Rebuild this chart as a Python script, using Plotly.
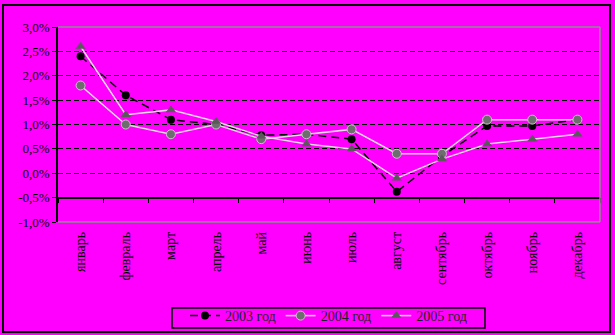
import plotly.graph_objects as go

months = ["январь", "февраль", "март", "апрель", "май", "июнь",
          "июль", "август", "сентябрь", "октябрь", "ноябрь", "декабрь"]
y2003 = [2.4, 1.6, 1.1, 1.0, 0.78, 0.8, 0.7, -0.38, 0.35, 0.97, 0.97, 1.1]
y2004 = [1.8, 1.0, 0.8, 1.0, 0.7, 0.8, 0.9, 0.4, 0.4, 1.1, 1.1, 1.1]
y2005 = [2.6, 1.2, 1.3, 1.06, 0.76, 0.6, 0.5, -0.1, 0.29, 0.6, 0.7, 0.8]
series_names = ["2003 год", "2004 год", "2005 год"]
y_tick_vals = [-1.0, -0.5, 0.0, 0.5, 1.0, 1.5, 2.0, 2.5, 3.0]
y_tick_text = ["-1,0%", "-0,5%", "0,0%", "0,5%", "1,0%", "1,5%", "2,0%", "2,5%", "3,0%"]
y_range = [-1.0, 3.0]
axis_cross = -0.5

BG = "#FF00FF"
FONT = "Liberation Serif"
W, H = 615, 335
ML, MR, MT, MB = 58, 15, 27, 113
PW, PH = W - ML - MR, H - MT - MB
cross_pos = (axis_cross - y_range[0]) / (y_range[1] - y_range[0])

fig = go.Figure()
fig.add_trace(go.Scatter(
    x=months, y=y2003, name=series_names[0], mode="lines+markers",
    line=dict(color="black", width=1.5, dash="8px,5px"),
    marker=dict(symbol="circle", size=8, color="black", line=dict(width=0)),
))
fig.add_trace(go.Scatter(
    x=months, y=y2004, name=series_names[1], mode="lines+markers",
    line=dict(color="#dcdcdc", width=1.5),
    marker=dict(symbol="circle", size=9, color="#6e6e6e", line=dict(width=1, color="#c8c8c8")),
))
fig.add_trace(go.Scatter(
    x=months, y=y2005, name=series_names[2], mode="lines+markers",
    line=dict(color="#dcdcdc", width=1.5),
    marker=dict(symbol="triangle-up", size=9, color="#5a5a5a", line=dict(width=0)),
))

fig.update_layout(
    width=W, height=H,
    margin=dict(l=ML, r=MR, t=MT, b=MB, autoexpand=False),
    paper_bgcolor=BG, plot_bgcolor=BG,
    font=dict(family=FONT, size=13, color="black"),
    showlegend=True,
    legend=dict(
        orientation="h", xref="container", yref="container",
        x=328.5 / W, xanchor="center", y=1 - 300 / H, yanchor="top",
        borderwidth=0, bgcolor="rgba(0,0,0,0)",
        font=dict(family=FONT, size=14, color="#222222"),
        tracegroupgap=0,
    ),
    xaxis=dict(
        type="category", categoryorder="array", categoryarray=months,
        range=[-0.5, 11.5], anchor="free", position=cross_pos,
        showgrid=False, zeroline=False, showline=True,
        linecolor="black", linewidth=1.5,
        ticks="outside", tickson="boundaries", ticklen=5, tickcolor="black", tickwidth=1,
        tickangle=-90, ticklabelstandoff=28, automargin=False,
        tickfont=dict(family=FONT, size=14, color="black"),
    ),
    yaxis=dict(
        range=y_range, tickmode="array", tickvals=y_tick_vals, ticktext=y_tick_text,
        showgrid=True, gridcolor="black", gridwidth=1, griddash="5px,3px",
        zeroline=False, showline=True, linecolor="black", linewidth=1.5,
        ticks="outside", ticklen=4, tickcolor="black", automargin=False,
        tickfont=dict(family=FONT, size=13, color="black"),
    ),
    shapes=[
        # plot area border (gray)
        dict(type="line", xref="paper", yref="paper", x0=0, x1=1, y0=1, y1=1,
             line=dict(color="#8c8c8c", width=1.5), layer="above"),
        dict(type="line", xref="paper", yref="paper", x0=1, x1=1, y0=0, y1=1,
             line=dict(color="#8c8c8c", width=1.5), layer="above"),
        dict(type="line", xref="paper", yref="paper", x0=0, x1=1, y0=0, y1=0,
             line=dict(color="#8c8c8c", width=1.5), layer="above"),
        # legend frame
        dict(type="rect", xref="paper", yref="paper",
             x0=(172 - ML) / PW, x1=(485 - ML) / PW,
             y0=-(328 - MT - PH) / PH, y1=-(308 - MT - PH) / PH,
             line=dict(color="black", width=1.5), layer="above"),
        # outer chart frame
        dict(type="rect", xref="paper", yref="paper",
             x0=(3 - ML) / PW, x1=1 + (610 - ML - PW) / PW,
             y0=-(332 - MT - PH) / PH, y1=1 + (MT - 5) / PH,
             line=dict(color="black", width=2), layer="above"),
    ],
)

fig.write_html("out.html")
